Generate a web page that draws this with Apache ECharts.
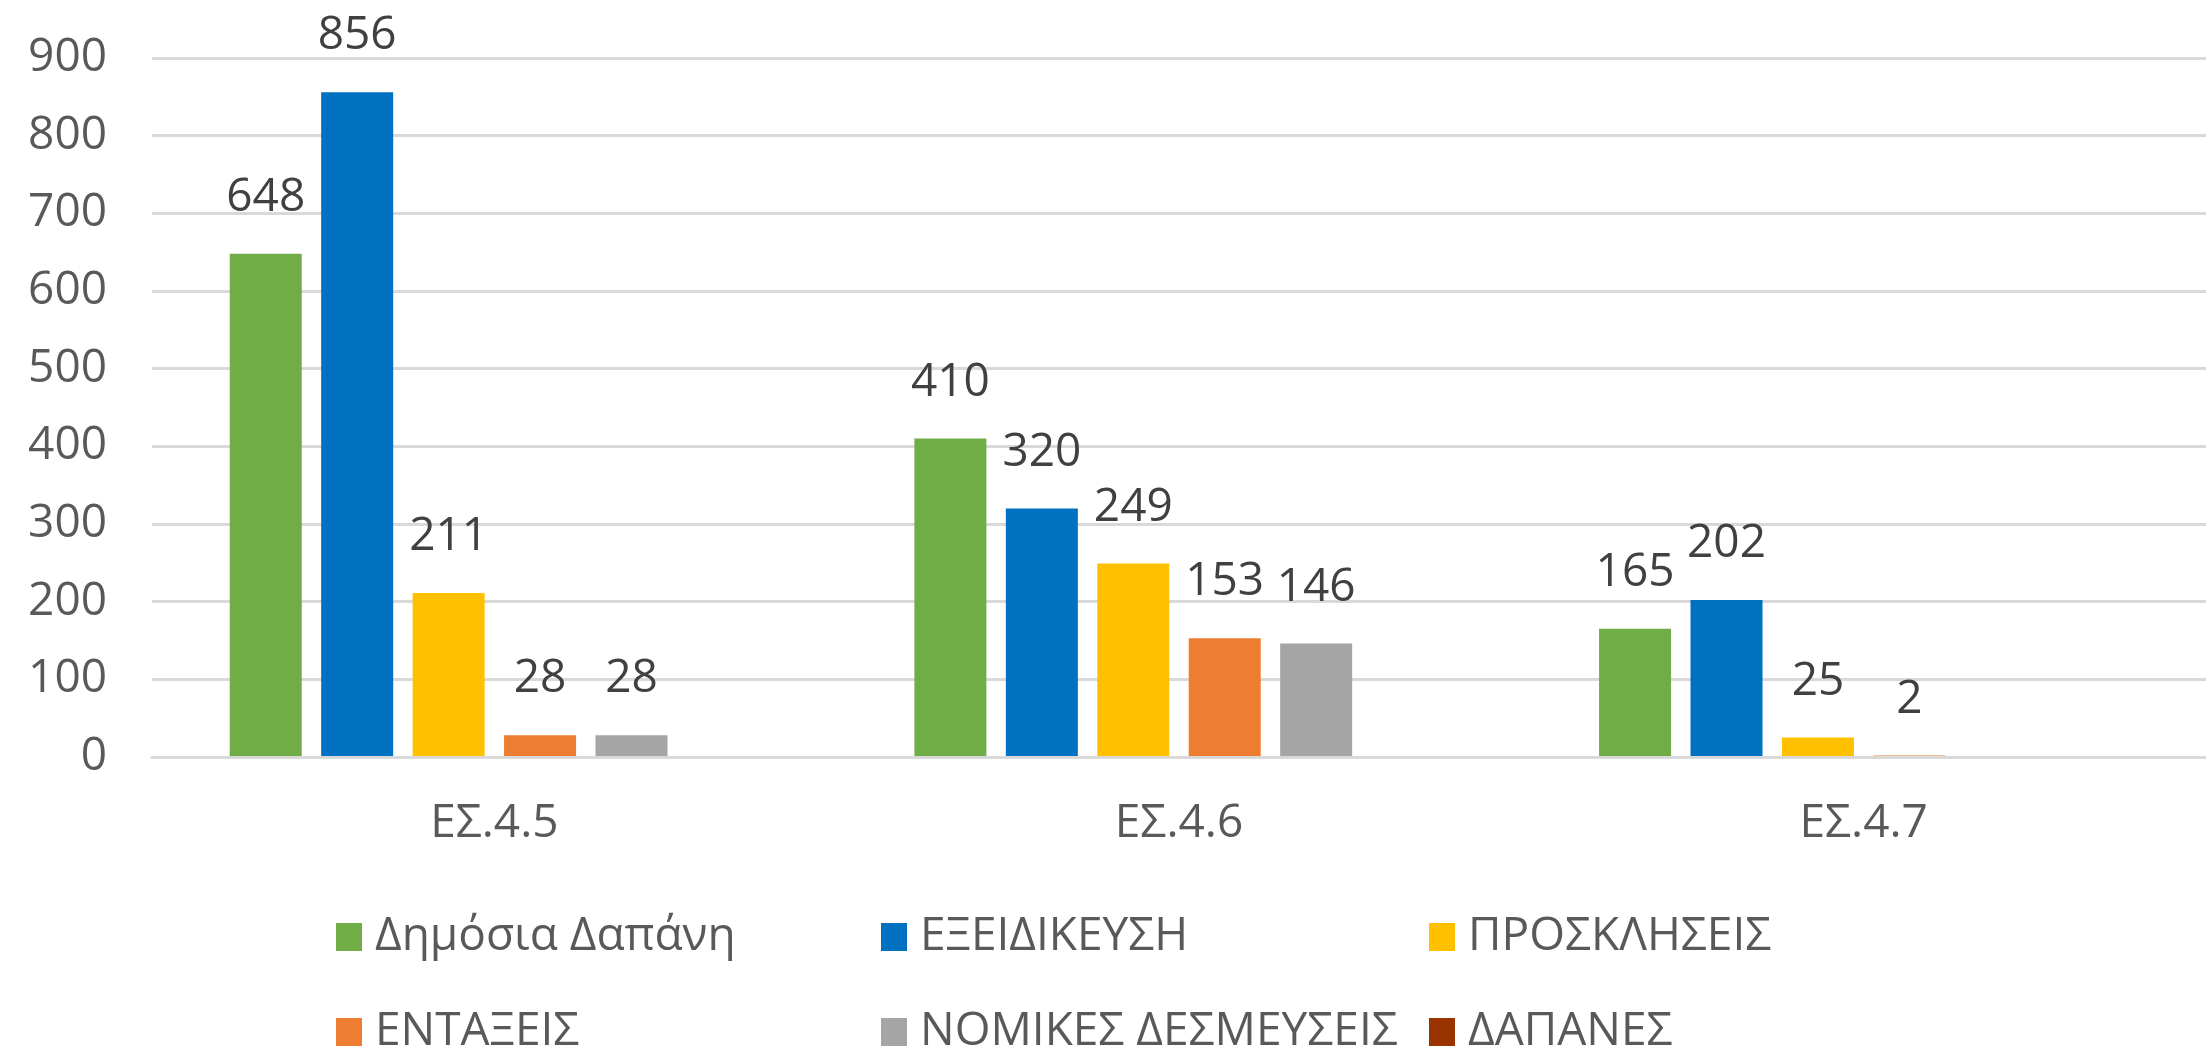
<!DOCTYPE html>
<html>
<head>
<meta charset="utf-8">
<script src="https://cdn.jsdelivr.net/npm/echarts@6/dist/echarts.min.js"></script>
<style>
  html, body { margin: 0; padding: 0; background: #fff; }
  #chart { width: 2206px; height: 1056px; }
</style>
</head>
<body>
<div id="chart"></div>
<script>
// κατηγορίες άξονα x
const categories = ['ΕΣ.4.5', 'ΕΣ.4.6', 'ΕΣ.4.7']
const seriesNames = ['Δημόσια Δαπάνη', 'ΕΞΕΙΔΙΚΕΥΣΗ', 'ΠΡΟΣΚΛΗΣΕΙΣ', 'ΕΝΤΑΞΕΙΣ', 'ΝΟΜΙΚΕΣ ΔΕΣΜΕΥΣΕΙΣ', 'ΔΑΠΑΝΕΣ']
// τιμές ανά σειρά (null = κενό κελί, χωρίς ετικέτα)
const dimosiaDapani = [648, 410, 165]
const exeidikefsi = [856, 320, 202]
const proskliseis = [211, 249, 25]
const entaxeis = [28, 153, 2]
const nomikesDesmefseis = [28, 146, null]
const dapanes = [null, null, null]
const yTicks = [0, 100, 200, 300, 400, 500, 600, 700, 800, 900]

const seriesData = [dimosiaDapani, exeidikefsi, proskliseis, entaxeis, nomikesDesmefseis, dapanes]
const colors = ['#70AD47', '#0070C0', '#FFC000', '#ED7D31', '#A5A5A5', '#993300']

const FONT = 'Open Sans'
const chart = echarts.init(document.getElementById('chart'))

// legend σε 2 σειρές x 3 στήλες, όπως στο Excel
const legendCols = [336, 881, 1429]
const legendRows = [914, 1009]
const legends = seriesNames.map((name, i) => ({
  data: [name],
  left: legendCols[i % 3],
  top: legendRows[Math.floor(i / 3)],
  padding: 0,
  icon: 'rect',
  itemWidth: 26,
  itemHeight: 28,
  selectedMode: false,
  textStyle: {
    color: '#595959',
    fontFamily: FONT,
    fontSize: 46,
    padding: [0, 0, 0, 8]
  }
}))

const option = {
  animation: false,
  color: colors,
  legend: legends,
  grid: {
    left: 152,
    width: 2070,
    top: 58,
    bottom: 299,
    containLabel: false
  },
  xAxis: {
    type: 'category',
    data: categories,
    z: 3, // η γραμμή του άξονα πάνω από τις μπάρες, όπως στο Excel
    axisLine: { show: true, lineStyle: { color: '#d9d9d9', width: 3 } },
    axisTick: { show: false },
    axisLabel: {
      color: '#595959',
      fontFamily: FONT,
      fontSize: 46,
      margin: 44
    }
  },
  yAxis: {
    type: 'value',
    min: yTicks[0],
    max: yTicks[yTicks.length - 1],
    interval: 100,
    axisLine: { show: false },
    axisTick: { show: false },
    axisLabel: {
      color: '#595959',
      fontFamily: FONT,
      fontSize: 46,
      margin: 45
    },
    splitLine: { lineStyle: { color: '#d9d9d9', width: 3 } }
  },
  series: seriesNames.map((name, i) => ({
    name: name,
    type: 'bar',
    data: seriesData[i],
    barWidth: 72,
    barGap: '27%',
    itemStyle: { color: colors[i] },
    label: {
      show: true,
      position: 'top',
      distance: 33,
      color: '#404040',
      fontFamily: FONT,
      fontSize: 46
    }
  }))
}

chart.setOption(option)
</script>
</body>
</html>
